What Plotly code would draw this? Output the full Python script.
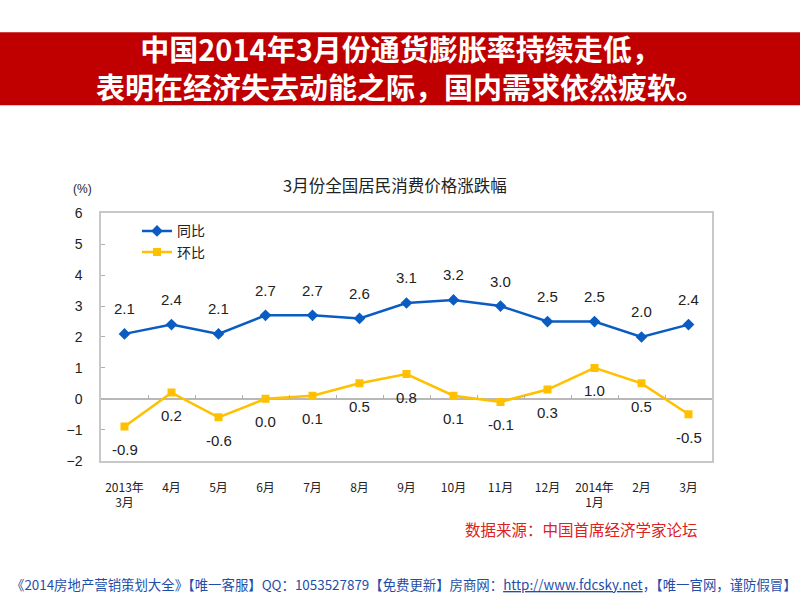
import plotly.graph_objects as go

categories = ["2013年<br>3月", "4月", "5月", "6月", "7月", "8月", "9月", "10月", "11月", "12月", "2014年<br>1月", "2月", "3月"]
yoy = [2.1, 2.4, 2.1, 2.7, 2.7, 2.6, 3.1, 3.2, 3.0, 2.5, 2.5, 2.0, 2.4]
mom = [-0.9, 0.2, -0.6, 0.0, 0.1, 0.5, 0.8, 0.1, -0.1, 0.3, 1.0, 0.5, -0.5]
y_ticks = [-2, -1, 0, 1, 2, 3, 4, 5, 6]

BLUE = "#0b5cc2"
YELLOW = "#ffc000"
FONT = "Noto Sans CJK SC"
LBL = "Liberation Sans, Arial"

x_idx = list(range(len(categories)))

fig = go.Figure()
fig.add_trace(go.Scatter(x=x_idx, y=yoy, mode="lines+markers", name="同比",
                         line=dict(color=BLUE, width=2.5),
                         marker=dict(symbol="diamond", size=9, color=BLUE)))
fig.add_trace(go.Scatter(x=x_idx, y=mom, mode="lines+markers", name="环比",
                         line=dict(color=YELLOW, width=2.5),
                         marker=dict(symbol="square", size=8, color=YELLOW)))
# invisible trace to host boundary ticks along the zero line
fig.add_trace(go.Scatter(x=[0], y=[0], xaxis="x2", mode="markers",
                         marker=dict(opacity=0), showlegend=False, hoverinfo="skip"))

for i, v in enumerate(yoy):
    fig.add_annotation(x=i, y=v, text=f"{v:.1f}", showarrow=False, yshift=25,
                       font=dict(family=LBL, size=15, color="#222222"))
for i, v in enumerate(mom):
    fig.add_annotation(x=i, y=v, text=f"{v:.1f}", showarrow=False, yshift=-23,
                       font=dict(family=LBL, size=15, color="#222222"))

y0 = 1 - 465 / 600
y1 = 1 - 211 / 600
zero_pos = y0 + (0 - y_ticks[0]) / (y_ticks[-1] - y_ticks[0]) * (y1 - y0)

fig.update_layout(
    width=800, height=600,
    margin=dict(l=0, r=0, t=0, b=0),
    paper_bgcolor="white", plot_bgcolor="white",
    showlegend=True,
    legend=dict(x=137 / 800, y=1 - 213 / 600, xanchor="left", yanchor="top",
                font=dict(family=FONT, size=14, color="#222222"),
                bgcolor="rgba(0,0,0,0)", tracegroupgap=0),
    xaxis=dict(domain=[101 / 800, 712 / 800], range=[-0.5, 12.5],
               tickvals=x_idx, ticktext=categories,
               showline=True, linecolor="#c8c8c8", linewidth=1.5, mirror=True,
               showgrid=False, zeroline=False, ticks="",
               tickfont=dict(family=FONT, size=12, color="#222222"),
               ticklabelstandoff=15),
    xaxis2=dict(overlaying="x", anchor="free", position=zero_pos, range=[-0.5, 12.5],
                tickvals=[i + 0.5 for i in range(12)], ticks="inside", ticklen=4,
                tickcolor="#b0b0b0", showticklabels=False, showline=False,
                showgrid=False, zeroline=False),
    yaxis=dict(domain=[y0, y1], range=[-2, 6], tickvals=y_ticks,
               showline=True, linecolor="#c8c8c8", linewidth=1.5, mirror=True,
               showgrid=False, zeroline=True, zerolinecolor="#b8b8b8", zerolinewidth=1.5,
               ticks="inside", ticklen=4, tickcolor="#b0b0b0",
               tickfont=dict(family=LBL, size=14, color="#222222"),
               ticklabelstandoff=14),
)

def note(x, y, text, font, xanchor="center"):
    fig.add_annotation(xref="paper", yref="paper", x=x / 800, y=1 - y / 600,
                       xanchor=xanchor, yanchor="middle", showarrow=False,
                       text=text, font=font)

# red title banner
fig.add_shape(type="rect", xref="paper", yref="paper", x0=0, x1=1,
              y0=1 - 100 / 600, y1=1 - 25 / 600, fillcolor="#c00000",
              line=dict(width=0), layer="below")
note(400, 61, "<b>中国2014年3月份通货膨胀率持续走低，</b><br><b>表明在经济失去动能之际，国内需求依然疲软。</b>",
     dict(family=FONT, size=29, color="white"))

# chart title and unit
note(395, 182, "3月份全国居民消费价格涨跌幅", dict(family=FONT, size=16.5, color="#222222"))
note(82, 186, "(%)", dict(family=LBL, size=12, color="#222222"))

# source
note(700, 535, "数据来源：中国首席经济学家论坛", dict(family=FONT, size=15.5, color="#e02020"),
     xanchor="right")

# footer
note(404, 592, "《2014房地产营销策划大全》【唯一客服】QQ：1053527879【免费更新】房商网：<u>http://www.fdcsky.net</u>，【唯一官网，谨防假冒】",
     dict(family=FONT, size=13.4, color="#1f4ea8"))

fig.write_html("out.html", config={"displayModeBar": False},
               post_script="document.body.style.margin='0';")
